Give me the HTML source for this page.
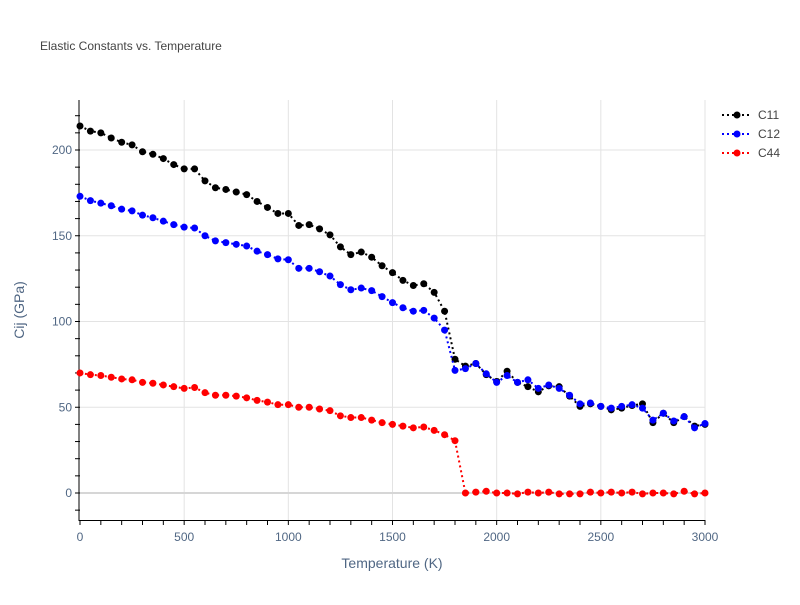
<!DOCTYPE html>
<html><head><meta charset="utf-8">
<style>
body{margin:0;background:#fff;font-family:"Liberation Sans",sans-serif;}
svg text{font-family:"Liberation Sans",sans-serif;}
</style></head>
<body>
<svg id="chart" width="800" height="600" xmlns="http://www.w3.org/2000/svg">
<rect width="800" height="600" fill="#fff"/>
<text x="40" y="50" font-size="12" fill="#444">Elastic Constants vs. Temperature</text>
<g id="grid"></g>
<g id="axes"></g>
<g id="series"></g>
<text x="392" y="568" font-size="14" fill="#506784" text-anchor="middle">Temperature (K)</text>
<text x="24" y="310" font-size="14" fill="#506784" text-anchor="middle" transform="rotate(-90 24 310)">Cij (GPa)</text>
<g id="legend"></g>
</svg>
<script>
const temps = [];
for (let t = 0; t <= 3000; t += 50) temps.push(t);
const c11 = [214,211,210,207,204.5,203,199,197.5,195,191.5,189,189,182,178,177,175.5,174,170,166.5,163,163,156,156.5,154,150.5,143.5,139,140.5,137.5,132.5,128.5,124,121,122,117,106,78,74,75.5,69,65,71,64.5,62,59,62.5,62,56.5,50.5,52,50.5,48.5,49.5,51,52,41,46.5,41,44.5,39,40];
const c12 = [173,170.5,169,167.5,165.5,164.5,162,160.5,158.5,156.5,155,154.5,150,147,146,145,144,141,139,136.5,136,131,131,129,126.5,121.5,118.5,119.5,118,114.5,111,108,106,106.5,102,95,71.5,72.5,75.5,69.5,64.5,68.5,64.5,66,61,63,61,57,52,52.5,50.5,49.5,50.5,51.5,49.5,42.5,46.5,42,44.5,38,40.5];
const c44 = [70,69,68.5,67.5,66.5,66,64.5,64,63,62,61,61.5,58.5,57,57,56.5,55.5,54,53,51.5,51.5,50,50,49,48,45,44,44,42.5,41,40,39,38,38.5,36.5,34,30.5,0,0.5,1,0,0,-0.5,0.5,0,0.5,-0.5,-0.5,-0.5,0.5,0,0.5,0,0.5,-0.5,0,0,-0.5,1,-0.5,0];
const seriesNames = ["C11","C12","C44"];
const seriesColors = ["#000000","#0000ff","#ff0000"];
const xTicks = [0,500,1000,1500,2000,2500,3000];
const yTicks = [0,50,100,150,200];

const NS = "http://www.w3.org/2000/svg";
const X0 = 80, X1 = 705, Y0 = 493, PPU = 1.715, YTOP = 100, YBOT = 520;
const xs = v => X0 + (v / 3000) * (X1 - X0);
const ys = v => Y0 - v * PPU;
function mk(tag, attrs, parent) {
  const e = document.createElementNS(NS, tag);
  for (const k in attrs) e.setAttribute(k, attrs[k]);
  parent.appendChild(e);
  return e;
}
const grid = document.getElementById('grid');
const axes = document.getElementById('axes');
xTicks.forEach(t => {
  if (t > 0) {
    const l = mk('line', {x1: xs(t), x2: xs(t), y1: YTOP, y2: YBOT, stroke: '#e3e3e3', 'stroke-width': 1}, grid);
    
    
  }
  const tx = mk('text', {x: xs(t), y: 541, 'font-size': 12, fill: '#506784', 'text-anchor': 'middle'}, axes);
  tx.textContent = t;
  
  
});
yTicks.forEach(t => {
  const l = mk('line', {x1: X0, x2: X1, y1: ys(t), y2: ys(t), stroke: t === 0 ? '#d6d6d6' : '#e3e3e3', 'stroke-width': t === 0 ? 2 : 1}, grid);
  
  
  const tx = mk('text', {x: 72, y: ys(t) + 4, 'font-size': 12, fill: '#506784', 'text-anchor': 'end'}, axes);
  tx.textContent = t;
  
  
});
for (let v = -10; v <= 220; v += 10) {
  mk('line', {x1: X0 - 5, x2: X0, y1: ys(v), y2: ys(v), stroke: '#000', 'stroke-width': 1}, axes);
}
for (let t = 0; t <= 3000; t += 100) {
  mk('line', {x1: xs(t), x2: xs(t), y1: YBOT, y2: YBOT + 5, stroke: '#000', 'stroke-width': 1}, axes);
}
const ya = mk('line', {x1: 79, x2: 79, y1: YTOP, y2: YBOT + 1, stroke: '#000', 'stroke-width': 1}, axes);


const xa = mk('line', {x1: 79, x2: X1, y1: YBOT + 0.5, y2: YBOT + 0.5, stroke: '#000', 'stroke-width': 1}, axes);



const seriesG = document.getElementById('series');
[c11, c12, c44].forEach((vals, i) => {
  const g = mk('g', {}, seriesG);
  
  
  const pts = vals.map((v, j) => xs(temps[j]).toFixed(1) + ',' + ys(v).toFixed(1)).join(' ');
  const pl = mk('polyline', {points: pts, fill: 'none', stroke: seriesColors[i], 'stroke-width': 2, 'stroke-dasharray': '2,3'}, g);
  
  
  vals.forEach((v, j) => {
    const c = mk('circle', {cx: xs(temps[j]), cy: ys(v), r: 3.5, fill: seriesColors[i]}, g);
    
    
  });
});

const legend = document.getElementById('legend');
seriesNames.forEach((n, i) => {
  const y = 115 + i * 19;
  const g = mk('g', {}, legend);
  
  
  mk('line', {x1: 722, x2: 752, y1: y, y2: y, stroke: seriesColors[i], 'stroke-width': 2, 'stroke-dasharray': '2,3'}, g);
  mk('circle', {cx: 737, cy: y, r: 3.5, fill: seriesColors[i]}, g);
  const t = mk('text', {x: 758, y: y + 4, 'font-size': 12, fill: '#444'}, g);
  t.textContent = n;
});
</script>
</body></html>
